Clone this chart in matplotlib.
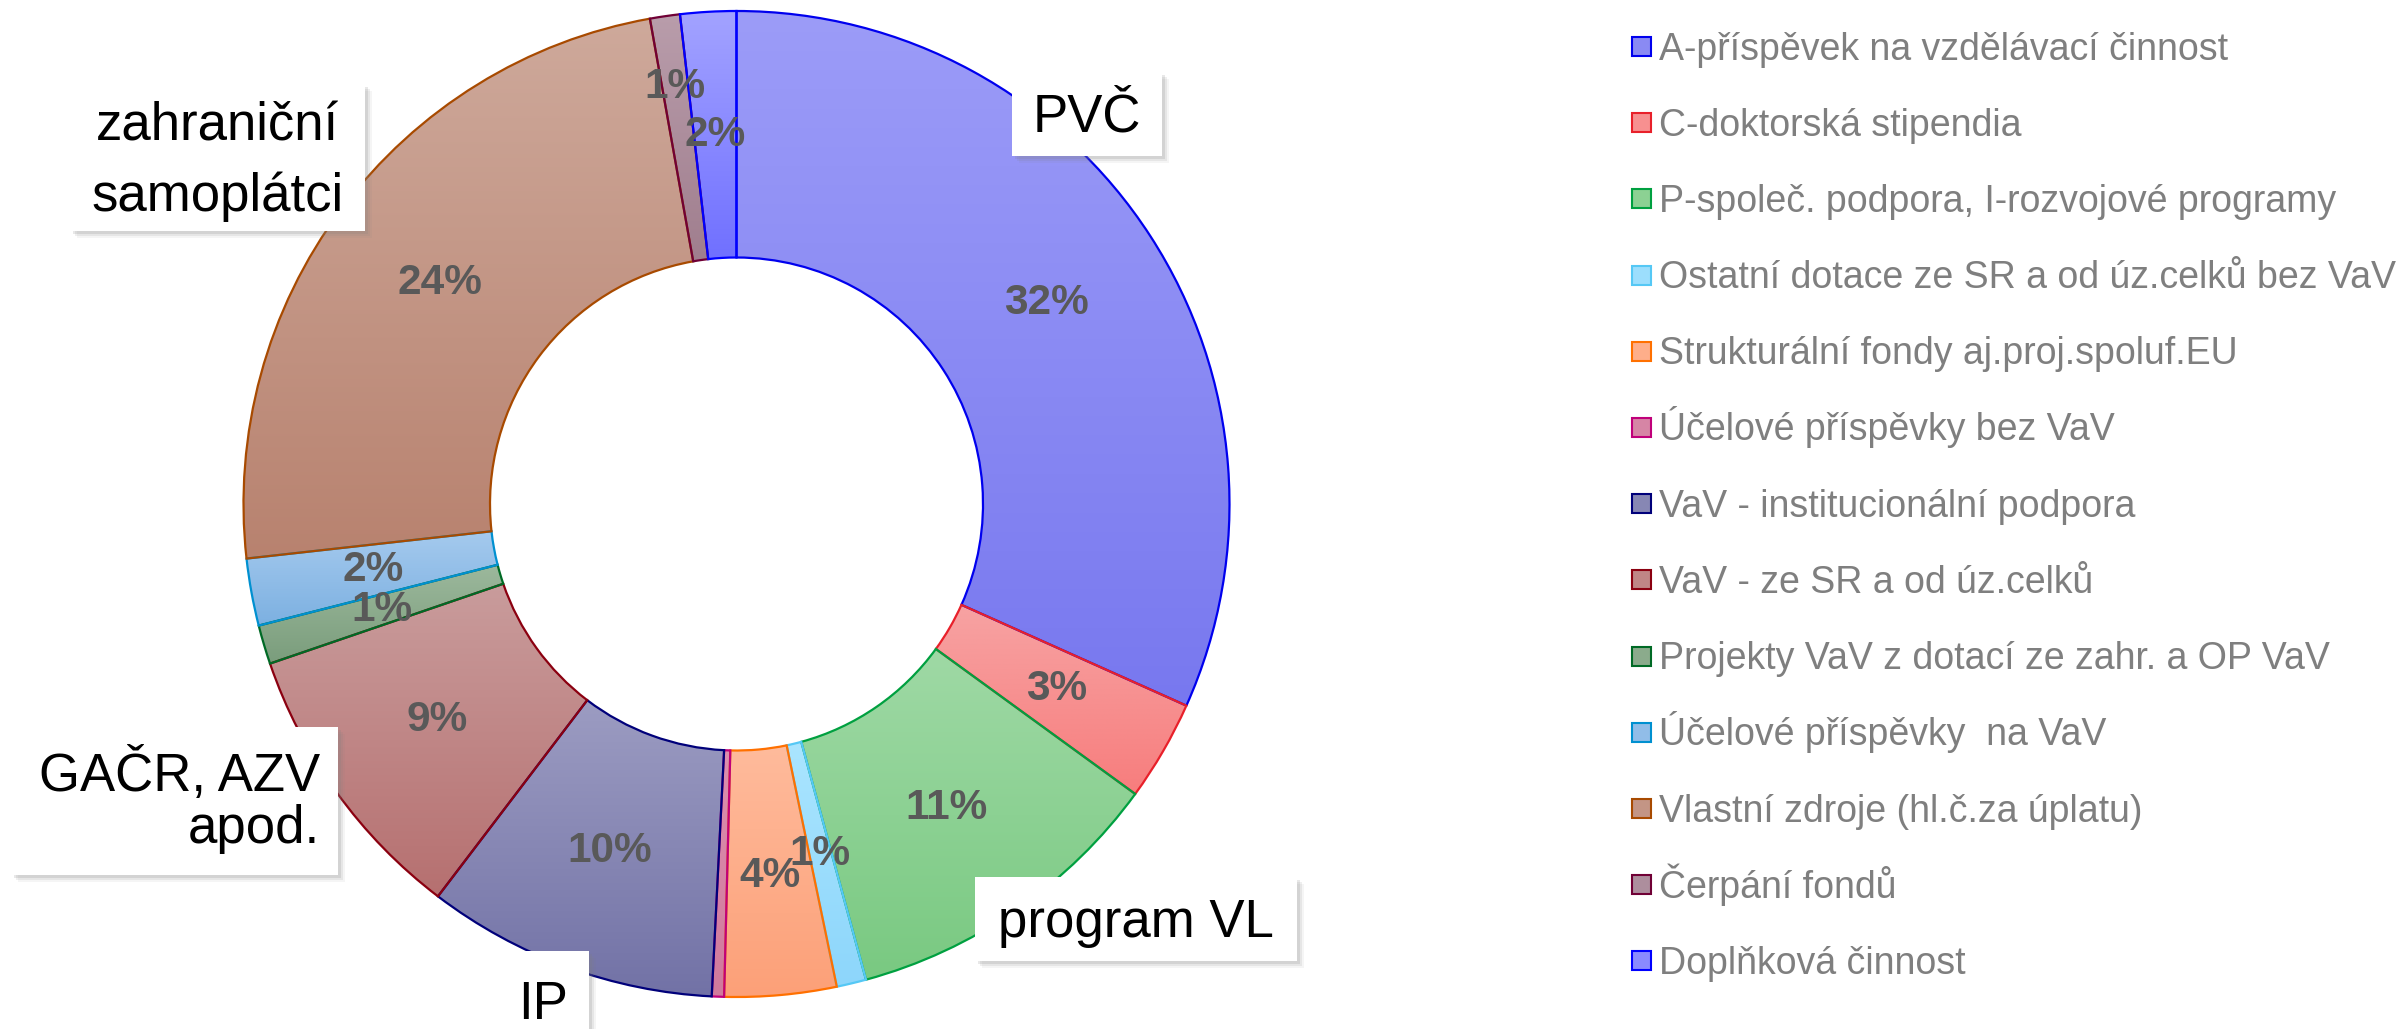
import matplotlib
matplotlib.use("Agg")
import matplotlib.pyplot as plt
import numpy as np
from matplotlib.colors import LinearSegmentedColormap, to_rgb
from matplotlib.patches import Rectangle

plt.rcParams["font.family"] = ["Liberation Sans", "DejaVu Sans"]

# data (percent of total)
labels = [
    "A-příspěvek na vzdělávací činnost",
    "C-doktorská stipendia",
    "P-společ. podpora, I-rozvojové programy",
    "Ostatní dotace ze SR a od úz.celků bez VaV",
    "Strukturální fondy aj.proj.spoluf.EU",
    "Účelové příspěvky bez VaV",
    "VaV - institucionální podpora",
    "VaV - ze SR a od úz.celků",
    "Projekty VaV z dotací ze zahr. a OP VaV",
    "Účelové příspěvky  na VaV",
    "Vlastní zdroje (hl.č.za úplatu)",
    "Čerpání fondů",
    "Doplňková činnost",
]
values = [31.7, 3.3, 10.76, 0.97, 3.66, 0.4, 9.55, 9.4, 1.28, 2.2, 23.95, 0.98, 1.83]

# gradient colours (top, bottom) and outline per slice
top_colors = ["#9c9cf8", "#f7a3a3", "#9fd9a5", "#aae5ff", "#ffbb9c", "#dc8fae", "#9c9cc2",
              "#c99c9c", "#9cb89c", "#a5caee", "#cea99b", "#b99dab", "#a3a3ff"]
bot_colors = ["#7878ef", "#f77d7d", "#79c981", "#8dd6fb", "#fca078", "#d07a9c", "#7272a6",
              "#b67070", "#7a9d7c", "#7cb0e1", "#b8826f", "#a07e8e", "#7070ff"]
edge_colors = ["#0000ee", "#e8202a", "#00a040", "#55c8f5", "#ff7000", "#c0007a", "#00007a",
               "#8b0010", "#006a25", "#0090d0", "#a84a00", "#700035", "#0000ff"]

# text, box (left, top, width, height in px from top-left), alignment, line spacing, text drop
callouts = [
    ("PVČ", (1012, 72, 150, 84), "center", 1.0, 4),
    ("zahraniční\nsamoplátci", (70, 84, 295, 147), "center", 1.5, 4),
    ("GAČR, AZV\napod.", (11, 727, 327, 148), "right", 1.05, 0),
    ("IP", (498, 951, 91, 84), "center", 1.0, 12),
    ("program VL", (975, 877, 322, 84), "center", 1.0, 4),
]

W, H = 2402, 1029
fig = plt.figure(figsize=(W / 100, H / 100), dpi=100)
ax = fig.add_axes([0, 0, 1, 1])

cx, cy, R = 736.5, H - 504, 493
wedges, _ = ax.pie(
    values, startangle=90, counterclock=False, radius=R, center=(cx, cy),
    wedgeprops=dict(width=R * 0.5, linewidth=1.6),
)

grad = np.linspace(0, 1, 256).reshape(-1, 1)
for w, c0, c1, ec in zip(wedges, top_colors, bot_colors, edge_colors):
    w.set_facecolor("none")
    w.set_edgecolor(ec)
    w.set_zorder(3)
    bb = w.get_path().get_extents()
    cmap = LinearSegmentedColormap.from_list("g", [c1, c0])
    im = ax.imshow(grad, cmap=cmap, origin="lower", aspect="auto",
                   extent=[bb.x0, bb.x1, bb.y0, bb.y1], zorder=2)
    im.set_clip_path(w)

# percentage labels in the middle of the ring (a few nudged like the original)
label_r = {3: 0.73, 4: 0.757, 11: 0.855}
for i, (w, v) in enumerate(zip(wedges, values)):
    if v < 0.5:
        continue
    mid = np.deg2rad((w.theta1 + w.theta2) / 2)
    r = R * label_r.get(i, 0.75)
    ax.text(cx + r * np.cos(mid), cy + r * np.sin(mid), f"{v:.0f}%",
            ha="center", va="center", fontsize=30.5, fontweight="bold",
            color="#595959", zorder=5)

# callout boxes with a soft shadow
for text, (x0, y0, bw, bh), ha, ls, drop in callouts:
    yb = H - y0 - bh
    for k, a in zip([7, 5, 3], [0.08, 0.12, 0.18]):
        ax.add_patch(Rectangle((x0 + k, yb - k), bw, bh, facecolor="#808080",
                               edgecolor="none", alpha=a, zorder=6, clip_on=False))
    ax.add_patch(Rectangle((x0, yb), bw, bh, facecolor="white", edgecolor="none",
                           zorder=7, clip_on=False))
    tx = x0 + bw / 2 if ha == "center" else x0 + bw - 18
    ax.text(tx, yb + bh / 2 - drop, text, ha=ha, va="center", fontsize=38, color="black",
            linespacing=ls, multialignment=ha, zorder=8)

# legend drawn by hand so the rows keep an even pitch
for i, (lab, c0, c1, ec) in enumerate(zip(labels, top_colors, bot_colors, edge_colors)):
    yc = H - (46 + i * 76.2)
    fc = (np.array(to_rgb(c0)) + np.array(to_rgb(c1))) / 2
    ax.add_patch(Rectangle((1632, yc - 10), 19, 19, facecolor=fc, edgecolor=ec,
                           linewidth=1.5, zorder=5))
    ax.text(1659, yc - 13.5, lab, ha="left", va="baseline", fontsize=27,
            color="#7f7f7f", zorder=5)

ax.set_xlim(0, W)
ax.set_ylim(0, H)
ax.set_aspect("equal")
ax.axis("off")

fig.savefig("out.png", dpi=100)
